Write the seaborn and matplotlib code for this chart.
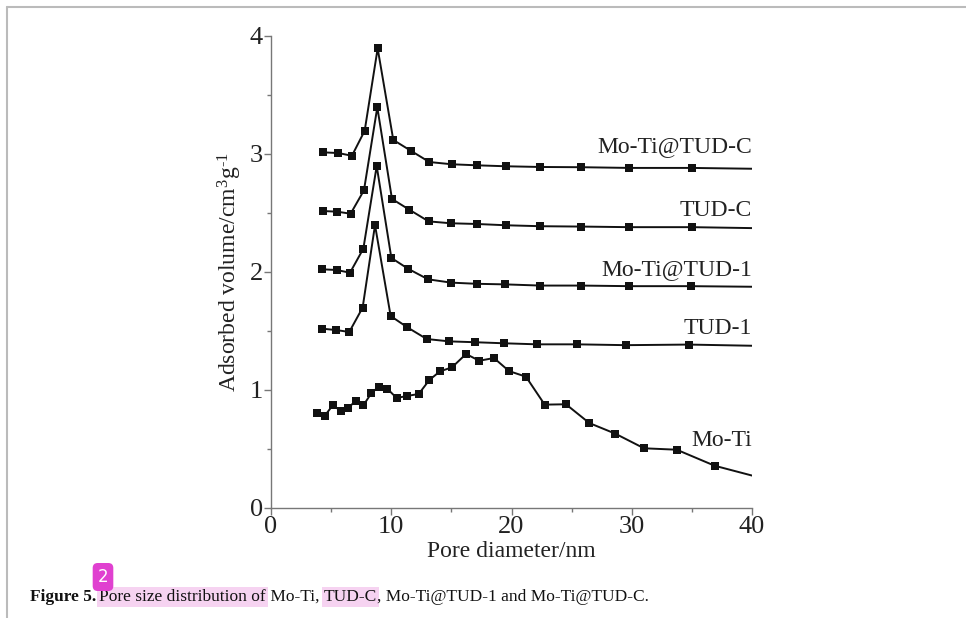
import numpy as np
import pandas as pd
import matplotlib
matplotlib.use("Agg")
import matplotlib.pyplot as plt
from matplotlib.ticker import MultipleLocator
import seaborn as sns

# ---- data ----
moti_x = [3.85, 4.46, 5.13, 5.79, 6.40, 7.07, 7.68, 8.34, 8.95, 9.67, 10.45, 11.28, 12.28,
          13.17, 14.05, 15.05, 16.22, 17.32, 18.54, 19.80, 21.2, 22.76, 24.53, 26.47,
          28.63, 31.02, 33.74, 36.9, 40.0]
moti_y = [0.808, 0.780, 0.870, 0.825, 0.847, 0.910, 0.870, 0.972, 1.028, 1.011, 0.932, 0.949,
          0.966, 1.085, 1.158, 1.192, 1.305, 1.248, 1.271, 1.160, 1.113, 0.876, 0.879, 0.720,
          0.630, 0.506, 0.494, 0.358, 0.275]

tud1_x = [4.24, 5.41, 6.51, 7.62, 8.65, 9.95, 11.34, 12.95, 14.83, 16.94, 19.35, 22.15,
          25.42, 29.52, 34.74, 40.0]
tud1_y = [1.520, 1.508, 1.492, 1.698, 2.398, 1.627, 1.531, 1.432, 1.412, 1.405, 1.396,
          1.387, 1.387, 1.380, 1.385, 1.375]

motitud1_x = [4.24, 5.46, 6.57, 7.68, 8.79, 10.01, 11.39, 13.06, 14.97, 17.10, 19.50,
              22.40, 25.80, 29.80, 34.90, 40.0]
motitud1_y = [2.023, 2.017, 1.994, 2.198, 2.898, 2.119, 2.028, 1.938, 1.910, 1.900, 1.895,
              1.885, 1.885, 1.880, 1.880, 1.875]

tudc_x = [4.30, 5.52, 6.62, 7.73, 8.84, 10.06, 11.50, 13.11, 14.94, 17.10, 19.54,
          22.40, 25.80, 29.80, 35.00, 40.0]
tudc_y = [2.517, 2.511, 2.494, 2.692, 3.396, 2.619, 2.528, 2.429, 2.413, 2.407, 2.396,
          2.388, 2.385, 2.380, 2.380, 2.372]

motitudc_x = [4.35, 5.60, 6.73, 7.79, 8.87, 10.17, 11.62, 13.17, 15.02, 17.15, 19.54,
              22.40, 25.80, 29.80, 35.00, 40.0]
motitudc_y = [3.014, 3.008, 2.985, 3.197, 3.895, 3.119, 3.028, 2.932, 2.913, 2.904, 2.896,
              2.890, 2.888, 2.882, 2.882, 2.875]

series_names = ["Mo-Ti", "TUD-1", "Mo-Ti@TUD-1", "TUD-C", "Mo-Ti@TUD-C"]
label_y = [0.57, 1.52, 2.02, 2.52, 3.06]

series = {
    "Mo-Ti": (moti_x, moti_y),
    "TUD-1": (tud1_x, tud1_y),
    "Mo-Ti@TUD-1": (motitud1_x, motitud1_y),
    "TUD-C": (tudc_x, tudc_y),
    "Mo-Ti@TUD-C": (motitudc_x, motitudc_y),
}

rows = []
for name in series_names:
    xs, ys = series[name]
    for i, (xv, yv) in enumerate(zip(xs, ys)):
        rows.append({"series": name, "x": xv, "y": yv, "idx": i})
df = pd.DataFrame(rows)

sns.set_theme(style="ticks")
plt.rcParams["font.family"] = ["Liberation Serif", "DejaVu Serif"]
plt.rcParams["mathtext.fontset"] = "custom"
plt.rcParams["mathtext.rm"] = "Liberation Serif"
plt.rcParams["mathtext.it"] = "Liberation Serif"

fig = plt.figure(figsize=(9.66, 6.18), dpi=100)
ax = fig.add_axes([271 / 966, 1 - 508 / 618, (752 - 271) / 966, (508 - 36) / 618])

for name in series_names:
    sub = df[df["series"] == name]
    sns.lineplot(data=sub, x="x", y="y", ax=ax, color="#111111", lw=1.4, sort=False,
                 estimator=None, legend=False)
    subm = sub.iloc[:-1]  # the final end point of each curve carries no marker
    sns.scatterplot(data=subm, x="x", y="y", ax=ax, color="#111111", marker="s", s=26,
                    linewidth=0, legend=False, zorder=3)

for name, ly in zip(series_names, label_y):
    ax.text(40, ly, name, ha="right", va="center", fontsize=17, color="#222222")

ax.set_xlim(0, 40)
ax.set_ylim(0, 4)
ax.xaxis.set_major_locator(MultipleLocator(10))
ax.xaxis.set_minor_locator(MultipleLocator(5))
ax.yaxis.set_major_locator(MultipleLocator(1))
ax.yaxis.set_minor_locator(MultipleLocator(0.5))
for s in ["top", "right"]:
    ax.spines[s].set_visible(False)
for s in ["left", "bottom"]:
    ax.spines[s].set_color("#777777")
    ax.spines[s].set_linewidth(1.0)
ax.tick_params(axis="both", which="major", direction="out", length=5, width=1,
               color="#777777", labelsize=19, labelcolor="#222222", pad=1)
ax.tick_params(axis="both", which="minor", direction="out", length=3, width=1,
               color="#777777")
ax.set_xlabel("Pore diameter/nm", fontsize=17, color="#222222", labelpad=2)
ax.set_ylabel(r"Adsorbed volume/cm$^{3}$g$^{\text{-}1}$", fontsize=17, color="#222222",
              labelpad=4)

# page border lines
fig.add_artist(plt.Line2D([7 / 966, 1], [1 - 7 / 618, 1 - 7 / 618], color="#bbbbbb", lw=1.5,
                          transform=fig.transFigure))
fig.add_artist(plt.Line2D([7 / 966, 7 / 966], [0, 1 - 7 / 618], color="#bbbbbb", lw=1.5,
                          transform=fig.transFigure))

# caption
cap_y = 1 - 597 / 618
t1 = fig.text(30 / 966, cap_y, "Figure 5.", fontsize=12.5, fontweight="bold", va="center",
              color="#111111")
fig.canvas.draw()
r = fig.canvas.get_renderer()
bb = t1.get_window_extent(r)
x = bb.x1 + 3
parts = [("Pore size distribution of", True), (" Mo-Ti, ", False), ("TUD-C", True),
         (", Mo-Ti@TUD-1 and Mo-Ti@TUD-C.", False)]
for txt, hl in parts:
    kw = dict(fontsize=12.5, va="center", color="#111111")
    if hl:
        kw["bbox"] = dict(boxstyle="square,pad=0.12", fc="#f6d3f1", ec="none")
    t = fig.text(x / 966, cap_y, txt, **kw)
    fig.canvas.draw()
    x = t.get_window_extent(r).x1

fig.text(103 / 966, 1 - 577 / 618, "2", fontsize=12, color="white", ha="center", va="center",
         family="DejaVu Sans",
         bbox=dict(boxstyle="round,pad=0.3,rounding_size=0.3", fc="#e040d0", ec="none"))

fig.savefig("out.png", dpi=100)
